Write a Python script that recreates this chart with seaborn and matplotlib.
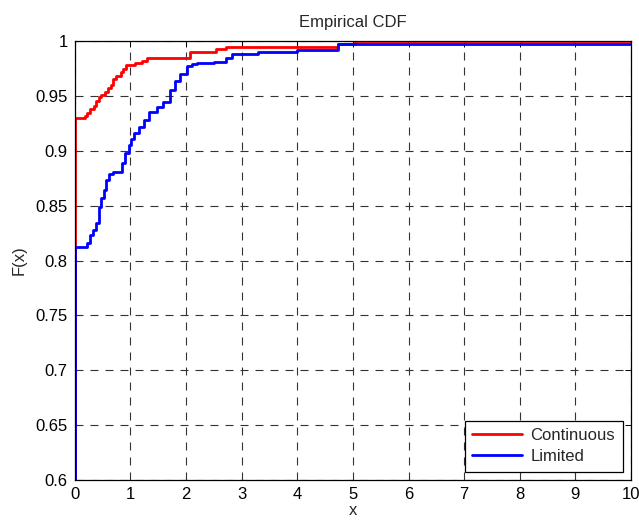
import pandas as pd
import seaborn as sns
import matplotlib.pyplot as plt
from matplotlib.ticker import FuncFormatter, MultipleLocator

# Step breakpoints (x where the step happens, F after it)
continuous_x = [0, 0, 0.18, 0.225, 0.27, 0.35, 0.39, 0.44, 0.48, 0.54, 0.60, 0.66,
                0.69, 0.75, 0.84, 0.87, 0.93, 1.08, 1.20, 1.29, 2.08, 2.54, 2.72,
                4.74, 5.04, 10.5]
continuous_f = [0.0, 0.930, 0.932, 0.934, 0.938, 0.9405, 0.945, 0.9487, 0.951, 0.954,
                0.957, 0.960, 0.965, 0.968, 0.972, 0.975, 0.978, 0.980, 0.9815,
                0.9845, 0.990, 0.9925, 0.995, 0.997, 1.0, 1.0]

limited_x = [0, 0, 0.22, 0.27, 0.33, 0.39, 0.44, 0.48, 0.53, 0.57, 0.61, 0.69, 0.85,
             0.91, 0.97, 1.01, 1.06, 1.15, 1.24, 1.33, 1.47, 1.59, 1.71, 1.80, 1.89,
             2.02, 2.11, 2.20, 2.50, 2.71, 2.83, 3.29, 3.99, 4.74, 10.5]
limited_f = [0.0, 0.812, 0.816, 0.823, 0.828, 0.834, 0.849, 0.857, 0.864, 0.873,
             0.879, 0.881, 0.889, 0.898, 0.905, 0.911, 0.916, 0.922, 0.928, 0.9355,
             0.940, 0.9445, 0.955, 0.964, 0.970, 0.977, 0.979, 0.980, 0.9806,
             0.985, 0.988, 0.990, 0.992, 0.997, 0.997]

series_names = ['Continuous', 'Limited']
series_colors = ['#ff0000', '#0000ff']

df = pd.concat([
    pd.DataFrame({'x': continuous_x, 'F': continuous_f, 'series': series_names[0]}),
    pd.DataFrame({'x': limited_x, 'F': limited_f, 'series': series_names[1]}),
], ignore_index=True)

sns.set_style('white')
plt.rcParams['font.family'] = ['Liberation Sans', 'DejaVu Sans']

fig = plt.figure(figsize=(6.39, 5.20), dpi=100)
ax = fig.add_axes([0.117, 0.077, 0.8705, 0.844])

sns.lineplot(data=df, x='x', y='F', hue='series', hue_order=series_names,
             palette=series_colors, estimator=None, sort=False,
             drawstyle='steps-post', linewidth=2.0, ax=ax)

ax.set_xlim(0, 10)
ax.set_ylim(0.6, 1.0)
ax.xaxis.set_major_locator(MultipleLocator(1))
ax.yaxis.set_major_locator(MultipleLocator(0.05))
ax.yaxis.set_major_formatter(FuncFormatter(lambda v, p: '%g' % round(v, 2)))

# MATLAB-like dashed grid
ax.grid(True, color='#333333', linestyle=(0, (7.2, 6.3)), linewidth=0.8)
ax.tick_params(direction='in', top=True, right=True, length=4, width=0.7,
               labelsize=12, colors='black', pad=5)
for s in ax.spines.values():
    s.set_color('black')
    s.set_linewidth(0.9)

ax.set_title('Empirical CDF', fontsize=12, pad=10)
ax.set_xlabel('x', fontsize=12, labelpad=1)
ax.set_ylabel('F(x)', fontsize=12, labelpad=6)

leg = ax.legend(loc='lower right', fontsize=12, handlelength=3.0, fancybox=False,
                edgecolor='black', framealpha=1, borderpad=0.45, labelspacing=0.35,
                borderaxespad=0.5, handletextpad=0.5)
leg.get_frame().set_linewidth(0.9)
for h in leg.get_lines():
    h.set_linewidth(2.0)

fig.savefig('out.png', dpi=100)
